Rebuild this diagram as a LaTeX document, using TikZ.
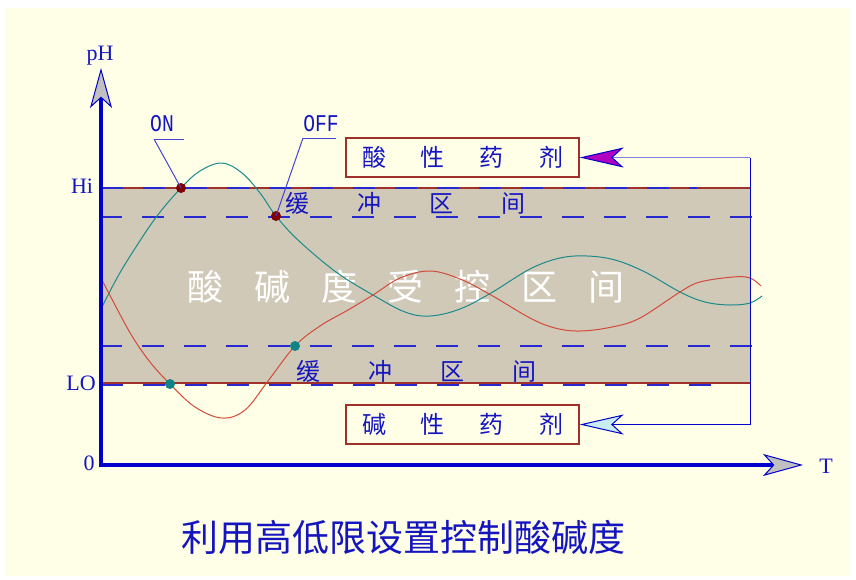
\documentclass[tikz,border=0pt]{standalone}
\usepackage{fontspec}
\setmainfont{Liberation Serif}
\newfontfamily\cjk{Noto Sans CJK SC}
\newfontfamily\monofnt{Liberation Mono}
\usetikzlibrary{arrows.meta}
\definecolor{cream}{HTML}{FFFFE8}
\definecolor{bandc}{HTML}{D0C9B8}
\definecolor{brd}{HTML}{A0302A}
\definecolor{axblue}{HTML}{0000CC}
\definecolor{txtblue}{HTML}{1515C0}
\definecolor{dashblue}{HTML}{2828D0}
\definecolor{tealc}{HTML}{1A8A8A}
\definecolor{redc}{HTML}{D24A3A}
\definecolor{dotred}{HTML}{800000}
\definecolor{dotteal}{HTML}{108484}
\definecolor{lav}{HTML}{8080E0}
\definecolor{magent}{HTML}{B000C0}
\definecolor{lcyan}{HTML}{C8ECF0}
\definecolor{axgray}{HTML}{C0C0C0}
\begin{document}
\begin{tikzpicture}[x=1pt,y=-1pt,
  axisline/.style={axblue, line width=4pt,
    -{Stealth[length=40pt,width=22pt,inset=10pt,fill=axgray,color=axblue,line width=1pt]}},
  fbline/.style={line width=1pt},
  dashln/.style={dashblue, line width=1.3pt, dash pattern=on 22pt off 20pt},
  lbl/.style={text=txtblue, inner sep=0pt, font=\fontsize{22}{26}\selectfont},
  monolbl/.style={text=txtblue, inner sep=0pt, font=\monofnt\fontsize{24}{28}\selectfont},
  leadln/.style={draw=txtblue!80, line width=1pt},
  buftxt/.style={text=txtblue, inner sep=0pt, font=\cjk\fontsize{24}{28}\selectfont},
  agentbox/.style={draw=brd, fill=cream, line width=1.2pt, minimum width=233pt, minimum height=39pt,
    inner sep=0pt, text=txtblue, font=\cjk\fontsize{24}{28}\selectfont},
  dotR/.style={circle, fill=dotred, inner sep=0pt, minimum size=10pt},
  dotT/.style={circle, fill=dotteal, inner sep=0pt, minimum size=10pt},
  curve/.style={line width=1pt},
]
\useasboundingbox (0,0) rectangle (856,579);
\fill[white] (0,0) rectangle (856,579);
\fill[cream] (6,8) rectangle (849,576);

% band
\fill[bandc] (101,188) rectangle (750,383);
\draw[brd, line width=1.2pt] (101,188) -- (750,188);
\draw[brd, line width=1.2pt] (101,383) -- (750,383);

% dashed lines
\draw[dashln, line width=2pt, dash phase=-42pt] (101,188) -- (697,188);
\draw[dashln] (100,217) -- (760,217);
\draw[dashln] (100,346) -- (760,346);
\draw[dashln, line width=2pt, dash phase=-42pt] (101,385) -- (718,385);

% white band text
\node[text=white, inner sep=0pt, font=\cjk\fontsize{36}{40}\selectfont] (band) at (406,287)
  {酸\hspace{30.7pt}碱\hspace{30.7pt}度\hspace{30.7pt}受\hspace{30.7pt}控\hspace{30.7pt}区\hspace{30.7pt}间};

% buffer labels
\node[buftxt] (bufup) at (405,203) {缓\hspace{48pt}冲\hspace{48pt}区\hspace{48pt}间};
\node[buftxt] (buflo) at (416,371) {缓\hspace{48pt}冲\hspace{48pt}区\hspace{48pt}间};

% curves
\draw[tealc, curve] plot[smooth, tension=0.6] coordinates {
  (101,309) (117,278) (134,250) (157,216) (181,188) (200,171) (222,163) (242,173)
  (260,193) (276,216) (298,240) (336,272) (373,295) (405,312) (430,316) (460,309)
  (491,293) (530,269) (560,258) (587,256) (615,260) (645,272) (680,292) (705,302)
  (730,305) (750,303) (762,296)};
\draw[redc, curve] plot[smooth, tension=0.6] coordinates {
  (101,278) (115,305) (132,336) (150,362) (170,384) (195,407) (222,418) (245,410)
  (268,381) (295,346) (320,326) (348,310) (373,295) (400,278) (430,271) (460,279)
  (491,295) (530,318) (555,328) (580,331) (612,327) (640,318) (680,292) (700,282)
  (733,277) (750,278) (761,286)};

% points
\node[dotR] (onpt) at (181,188) {};
\node[dotR] (offpt) at (276,216) {};
\node[dotT] (lopt) at (170,384) {};
\node[dotT] (uppt) at (295,346) {};

% ON / OFF labels
\node[monolbl] (onl) at (162,124) {\scalebox{0.82}[1]{ON}};
\node[monolbl] (offl) at (321,124) {\scalebox{0.82}[1]{OFF}};
\coordinate (onul) at (154,139);
\coordinate (offul) at (303,138);
\draw[leadln] (onul) -- ++(30,0);
\draw[leadln] (onul) -- (onpt.center);
\draw[leadln] (offul) -- ++(33,0);
\draw[leadln] (offul) -- (offpt.center);

% boxes
\node[agentbox] (acid) at (462.5,157.5) {酸\hspace{35pt}性\hspace{35pt}药\hspace{35pt}剂};
\node[agentbox] (base) at (462.5,424.5) {碱\hspace{35pt}性\hspace{35pt}药\hspace{35pt}剂};

% feedback
\coordinate (fbtop) at (750,157.5);
\coordinate (fbbot) at (750,424.5);
\draw[axblue, fbline] (fbtop) -- (fbbot);
\draw[lav, fbline, -{Stealth[length=44pt,width=20pt,inset=11pt,fill=magent,color=axblue,line width=1pt]}] (fbtop) -- (acid.east);
\draw[axblue, fbline, -{Stealth[length=44pt,width=20pt,inset=11pt,fill=lcyan,color=axblue,line width=1pt]}] (fbbot) -- (base.east);

% axes
\coordinate (origin) at (101,465);
\coordinate (ytip) at (101,68);
\coordinate (xtip) at (803,465);
\draw[axisline] (101,467) -- (ytip);
\draw[axisline] (99,465) -- (xtip);

% axis labels
\node[lbl] (ph) at (100,56) {pH};
\node[lbl] (hi) at (82,186) {Hi};
\node[lbl] (lo) at (81,383) {LO};
\node[lbl] (zero) at (89,463) {0};
\node[lbl] (tl) at (826,466) {T};

% title
\node[text=txtblue, inner sep=0pt, font=\cjk\fontsize{37}{42}\selectfont] (title) at (403,537)
  {利用高低限设置控制酸碱度};
\end{tikzpicture}
\end{document}
